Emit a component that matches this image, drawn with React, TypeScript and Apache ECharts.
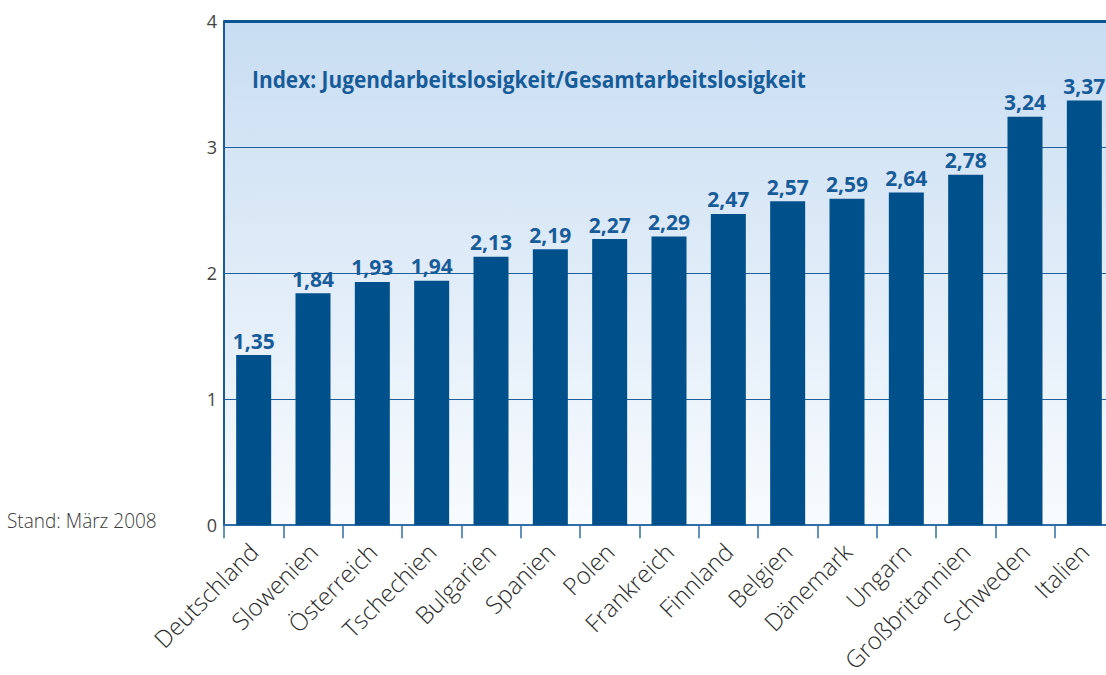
import React, { useEffect, useRef } from "react";
import * as echarts from "echarts";

const categories = [
  "Deutschland", "Slowenien", "Österreich", "Tschechien", "Bulgarien", "Spanien", "Polen",
  "Frankreich", "Finnland", "Belgien", "Dänemark", "Ungarn", "Großbritannien", "Schweden", "Italien",
];
const values = [1.35, 1.84, 1.93, 1.94, 2.13, 2.19, 2.27, 2.29, 2.47, 2.57, 2.59, 2.64, 2.78, 3.24, 3.37];
const yTicks = [0, 1, 2, 3, 4];
const titleText = "Index: Jugendarbeitslosigkeit/Gesamtarbeitslosigkeit";
const noteText = "Stand: März 2008";

const FONT = "'Open Sans', 'Noto Sans', sans-serif";

export default function App() {
  const ref = useRef<HTMLDivElement>(null);
  useEffect(() => {
    document.body.style.margin = "0";
    const chart = echarts.init(ref.current!, null, { renderer: "svg" });
    chart.setOption({
      animation: false,
      textStyle: { fontFamily: FONT },
      grid: {
        left: 224,
        top: 21,
        height: 505,
        width: 890,
        show: true,
        borderWidth: 0,
        backgroundColor: new echarts.graphic.LinearGradient(0, 0, 0, 1, [
          { offset: 0, color: "#c8ddf2" },
          { offset: 1, color: "#f8fbfe" },
        ]),
      },
      xAxis: {
        type: "category",
        data: categories,
        axisLine: { lineStyle: { color: "#2f6ea8", width: 2 } },
        axisTick: { show: true, length: 13, lineStyle: { color: "#2f6ea8", width: 1.5 } },
        axisLabel: {
          rotate: 45,
          interval: 0,
          margin: 22,
          fontSize: 24,
          fontWeight: 300,
          color: "#2a2a2a",
          fontFamily: FONT,
        },
      },
      yAxis: {
        type: "value",
        min: yTicks[0],
        max: yTicks[yTicks.length - 1],
        interval: 1,
        axisLine: { show: true, lineStyle: { color: "#1a5c98", width: 2 } },
        axisTick: { show: false },
        splitLine: { lineStyle: { color: "#1d5f9b", width: 1.2 } },
        axisLabel: { fontSize: 18, color: "#444", margin: 7, fontFamily: FONT },
      },
      series: [
        {
          type: "bar",
          data: values,
          barWidth: 35,
          itemStyle: { color: "#00508c" },
          label: {
            show: true,
            position: "top",
            distance: 4,
            fontSize: 21,
            fontWeight: "bold",
            color: "#175c99",
            fontFamily: FONT,
            formatter: (p: any) => p.value.toFixed(2).replace(".", ","),
          },
        },
        {
          type: "line",
          data: [],
          markLine: {
            silent: true,
            symbol: "none",
            label: { show: false },
            lineStyle: { color: "#0b5592", width: 3, type: "solid" },
            data: [{ yAxis: 4 }],
          },
        },
      ],
      graphic: [
        {
          type: "text",
          x: 252,
          y: 67,
          scaleX: 0.87,
          style: {
            text: titleText,
            fontSize: 24,
            fontWeight: "bold",
            fill: "#175c99",
            fontFamily: FONT,
          },
        },
        {
          type: "text",
          x: 7,
          y: 510,
          scaleX: 0.95,
          style: { text: noteText, fontSize: 20, fontWeight: 300, fill: "#3a3a3a", fontFamily: FONT },
        },
      ],
    });
    return () => chart.dispose();
  }, []);
  return (
    <div style={{ width: 1106, height: 675, overflow: "hidden", position: "relative" }}>
      <div ref={ref} style={{ width: 1130, height: 675 }} />
    </div>
  );
}
